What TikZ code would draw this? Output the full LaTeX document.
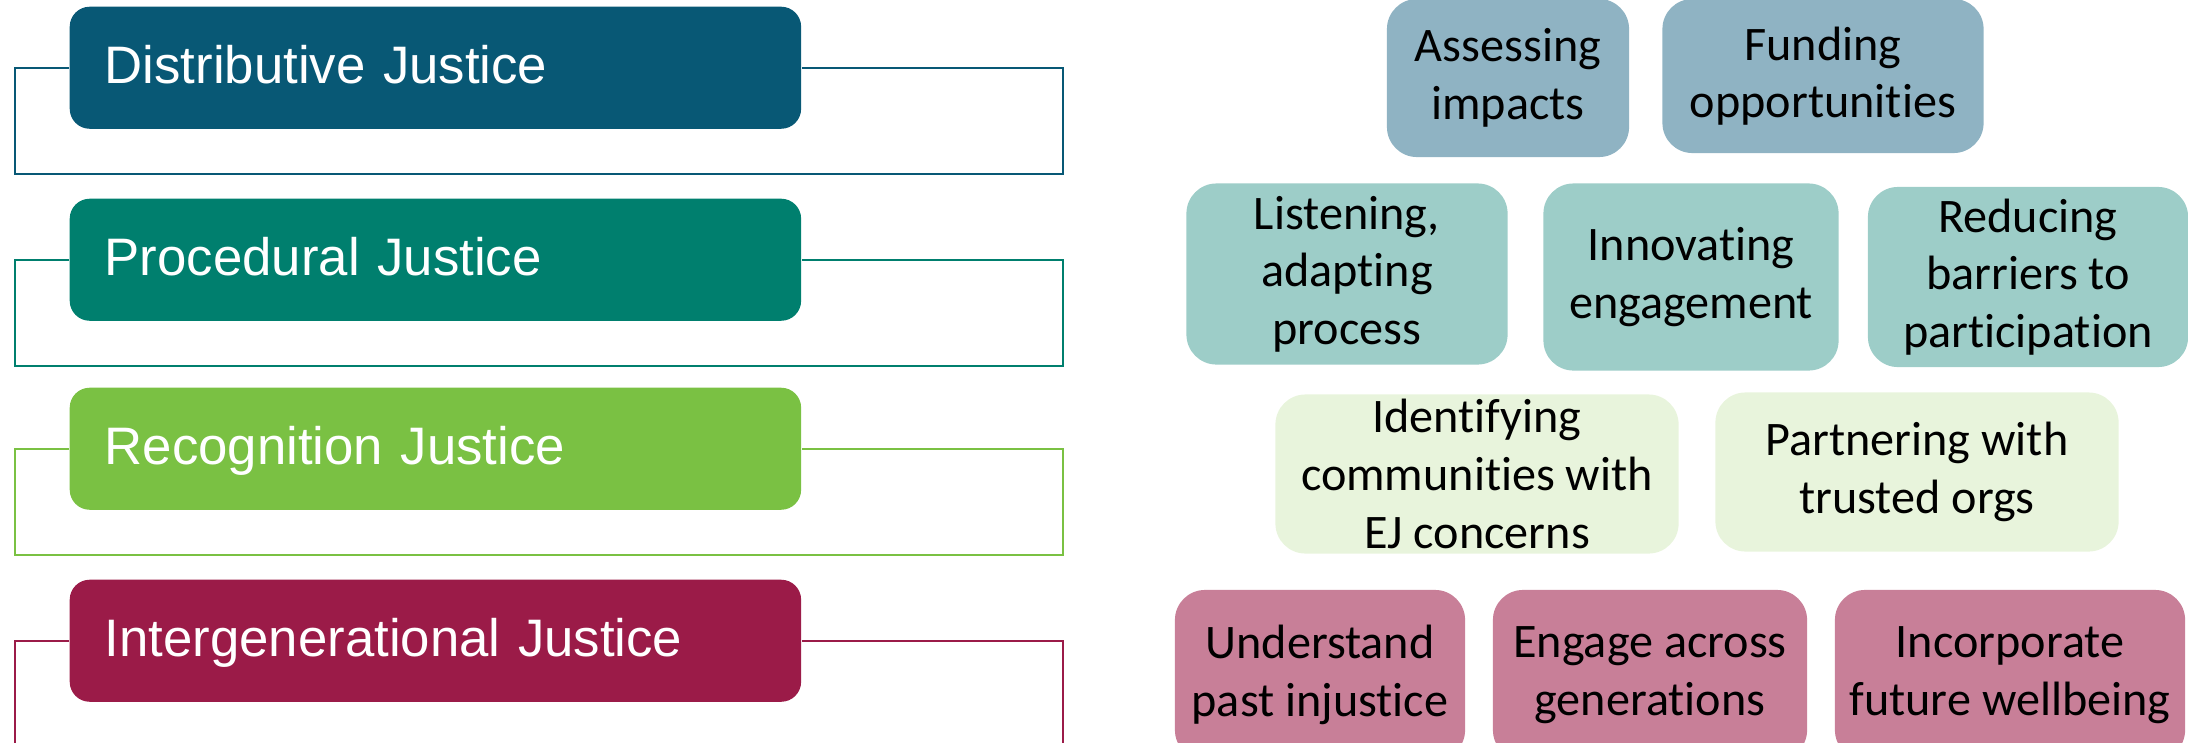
\documentclass[tikz,border=0pt]{standalone}
\usepackage{fontspec}
\setmainfont{Liberation Sans}
\newfontfamily\calibri[Ligatures=CommonOff]{Carlito}

\definecolor{distblue}{RGB}{8,88,117}
\definecolor{procteal}{RGB}{0,127,110}
\definecolor{recgreen}{RGB}{122,193,67}
\definecolor{intermaroon}{RGB}{155,27,72}
\definecolor{distlight}{RGB}{143,179,195}
\definecolor{proclight}{RGB}{157,205,200}
\definecolor{reclight}{RGB}{232,244,220}
\definecolor{interlight}{RGB}{200,127,152}

\begin{document}
\begin{tikzpicture}[x=0.01cm,y=-0.01cm,
  justice/.style={anchor=north west, rounded corners=0.2cm, minimum width=7.31cm,
    minimum height=1.22cm, text width=6.61cm, inner xsep=0.35cm, align=left,
    text height=0.4cm, text depth=0.08cm, text=white,
    font=\fontsize{15pt}{18pt}\selectfont},
  bracket/.style={line width=0.6pt},
  action/.style={rounded corners=0.3cm, align=center, inner sep=0pt,
    font=\calibri\fontsize{13.7pt}{16.4pt}\selectfont}]
\useasboundingbox (0,0) rectangle (2188,742);
\clip (0,0) rectangle (2188,742);

% The four kinds of justice
\node[justice, fill=distblue] (dist) at (69,6) {Distributive Justice};
\node[justice, fill=procteal] (proc) at (69,198) {Procedural Justice};
\node[justice, fill=recgreen] (recog) at (69,387) {Recognition Justice};
\node[justice, fill=intermaroon] (inter) at (69,579) {Intergenerational Justice};

% The brackets:
\draw[bracket, distblue] (dist.west) -- ++(-54,0) -- ++(0,106) -- ++(1048,0) -- ++(0,-106) -- (dist.east);
\draw[bracket, procteal] (proc.west) -- ++(-54,0) -- ++(0,106) -- ++(1048,0) -- ++(0,-106) -- (proc.east);
\draw[bracket, recgreen] (recog.west) -- ++(-54,0) -- ++(0,106) -- ++(1048,0) -- ++(0,-106) -- (recog.east);
\draw[bracket, intermaroon] (inter.west) -- ++(-54,0) -- ++(0,106) -- ++(1048,0) -- ++(0,-106) -- (inter.east);

% Distributive actions
\node[action, fill=distlight, minimum width=2.42cm, minimum height=1.58cm] (assess) at (1508,78) {Assessing\\impacts};
\node[action, fill=distlight, minimum width=3.21cm, minimum height=1.54cm] (fund) at (1823,76) {Funding\\opportunities};

% Procedural actions
\node[action, fill=proclight, minimum width=3.21cm, minimum height=1.81cm] (listen) at (1347,274) {Listening,\\adapting\\process};
\node[action, fill=proclight, minimum width=2.95cm, minimum height=1.87cm] (innov) at (1691,277) {Innovating\\engagement};
\node[action, fill=proclight, minimum width=3.20cm, minimum height=1.80cm] (reduce) at (2028,277) {Reducing\\barriers to\\participation};

% Recognition actions
\node[action, fill=reclight, minimum width=4.03cm, minimum height=1.59cm] (ident) at (1477,474) {Identifying\\communities with\\EJ concerns};
\node[action, fill=reclight, minimum width=4.03cm, minimum height=1.59cm] (partner) at (1917,472) {Partnering with\\trusted orgs};

% Intergenerational actions
\node[action, fill=interlight, minimum width=2.90cm, minimum height=1.70cm] (past) at (1320,675) {Understand\\past injustice};
\node[action, fill=interlight, minimum width=3.14cm, minimum height=1.70cm] (engage) at (1650,675) {Engage across\\generations};
\node[action, fill=interlight, minimum width=3.50cm, minimum height=1.70cm] (future) at (2010,675) {Incorporate\\future wellbeing};

%\draw [help lines, step=100] (0,0) grid (2188,742);
\end{tikzpicture}
\end{document}
